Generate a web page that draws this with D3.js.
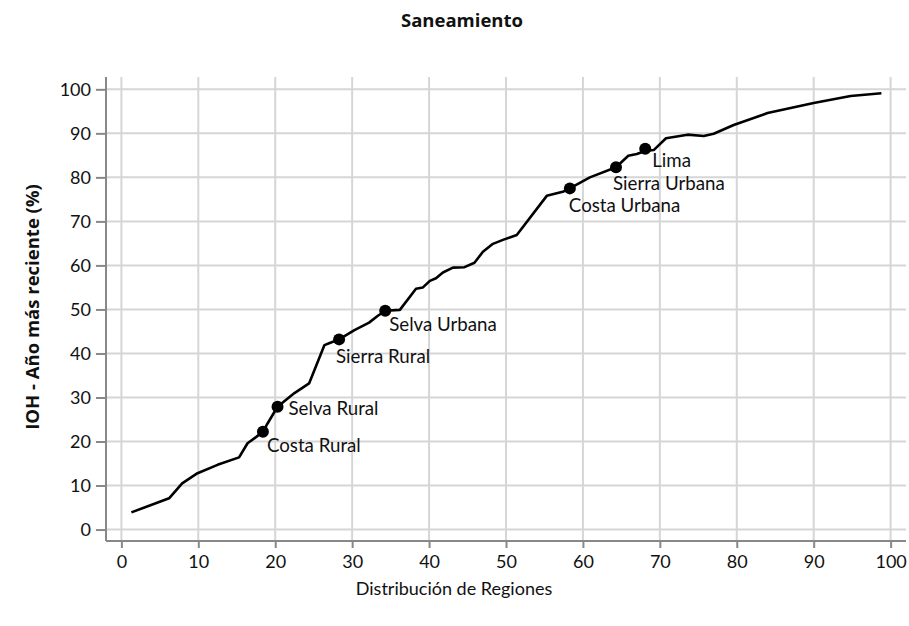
<!DOCTYPE html>
<html>
<head>
<meta charset="utf-8">
<script src="https://cdn.jsdelivr.net/npm/d3@7"></script>
<style>
  body { margin: 0; background: #fff; }
  svg text { font-family: Lato, "Open Sans", sans-serif; fill: #111; }
</style>
</head>
<body>
<svg id="chart" width="909" height="626"></svg>
<script>
// distribución acumulada de regiones (x) vs IOH (y)
const distX = [1.3, 6.2, 7.9, 9.9, 12.5, 15.3, 16.4, 17.5, 18.4, 19.0, 20.3, 22.5, 24.4, 26.4, 27.0,
    28.3, 30.3, 32.2, 33.3, 34.3, 36.2, 38.3, 39.2, 40.1, 40.9, 41.8, 43.1, 44.6, 45.9, 47.0,
    48.3, 49.6, 51.4, 55.3, 57.5, 58.3, 60.9, 64.3, 65.9, 67.0, 68.1, 69.2, 70.8, 73.6, 75.7,
    77.0, 79.6, 84.0, 90.0, 94.8, 98.8];
const iohY = [3.9, 7.1, 10.5, 12.8, 14.7, 16.4, 19.6, 21.0, 22.2, 24.1, 27.9, 31.0, 33.2, 41.9, 42.3,
    43.2, 45.3, 47.0, 48.5, 49.7, 49.9, 54.7, 55.0, 56.5, 57.1, 58.4, 59.5, 59.6, 60.6, 63.1,
    64.9, 65.8, 66.9, 75.8, 76.8, 77.5, 80.0, 82.3, 84.9, 85.3, 86.0, 86.2, 88.9, 89.7, 89.4,
    89.9, 91.9, 94.6, 96.9, 98.5, 99.1];

const regionNames = ["Costa Rural", "Selva Rural", "Sierra Rural", "Selva Urbana", "Costa Urbana", "Sierra Urbana", "Lima"];
const regionX = [18.4, 20.3, 28.3, 34.3, 58.3, 64.3, 68.1];
const regionY = [22.2, 27.9, 43.2, 49.7, 77.5, 82.3, 86.5];

const xTicks = [0, 10, 20, 30, 40, 50, 60, 70, 80, 90, 100];
const yTicks = [0, 10, 20, 30, 40, 50, 60, 70, 80, 90, 100];

// label placement relative to each dot (px)
const labelOffset = [[4, 14], [11, 2], [-3, 17], [4, 14], [-1, 17], [-3, 16], [7, 12]];

const svg = d3.select("#chart");
const plot = { left: 106, right: 906, top: 77, bottom: 541 };
const boldFont = "'Open Sans', Lato, sans-serif";

let x = d3.scaleLinear().domain([-2, 102]).range([plot.left, plot.right]);
let y = d3.scaleLinear().domain([-2.6, 102.8]).range([plot.bottom, plot.top]);

// grid
svg.append("g").selectAll("line").data(xTicks).enter().append("line")
    .attr("x1", d => x(d)).attr("x2", d => x(d))
    .attr("y1", plot.top).attr("y2", plot.bottom)
    .attr("stroke", "#d6d6d6").attr("stroke-width", 2);
svg.append("g").selectAll("line").data(yTicks).enter().append("line")
    .attr("x1", plot.left).attr("x2", plot.right)
    .attr("y1", d => y(d)).attr("y2", d => y(d))
    .attr("stroke", "#d6d6d6").attr("stroke-width", 2);

// axes
let xAxis = d3.axisBottom(x).tickValues(xTicks).tickSize(7).tickPadding(7);
let yAxis = d3.axisLeft(y).tickValues(yTicks).tickSize(10).tickPadding(5);

let gx = svg.append("g").attr("transform", "translate(0," + plot.bottom + ")").call(xAxis);
let gy = svg.append("g").attr("transform", "translate(" + plot.left + ",0)").call(yAxis);

[gx, gy].forEach(g => {
    g.select(".domain").attr("stroke", "#888").attr("stroke-width", 2);
    g.selectAll(".tick line").attr("stroke", "#888").attr("stroke-width", 2);
    g.selectAll(".tick text").attr("font-size", 18).attr("fill", "#111")
        .attr("font-family", "Lato, Open Sans, sans-serif");
});
gx.select(".domain").attr("d", "M" + plot.left + ",0H" + plot.right);
gy.select(".domain").attr("d", "M0," + plot.top + "V" + plot.bottom);

// curve
let pts = distX.map((d, i) => [d, iohY[i]]);
let line = d3.line().x(d => x(d[0])).y(d => y(d[1]));
svg.append("path").datum(pts)
    .attr("d", line)
    .attr("fill", "none").attr("stroke", "#000").attr("stroke-width", 2.6)
    .attr("stroke-linejoin", "round");

// points + labels
let marks = svg.append("g").selectAll("g").data(regionNames).enter().append("g");
marks.append("circle")
    .attr("cx", (d, i) => x(regionX[i])).attr("cy", (d, i) => y(regionY[i]))
    .attr("r", 6).attr("fill", "#000");
marks.append("text")
    .attr("x", (d, i) => x(regionX[i]) + labelOffset[i][0])
    .attr("y", (d, i) => y(regionY[i]) + labelOffset[i][1])
    .attr("dy", "0.35em")
    .attr("font-size", 18.7)
    .text(d => d);

// titles
svg.append("text").attr("x", 462).attr("y", 27)
    .attr("text-anchor", "middle").attr("font-size", 18.5).attr("font-weight", "bold")
    .style("font-family", boldFont)
    .text("Saneamiento");
svg.append("text").attr("x", 454).attr("y", 595)
    .attr("text-anchor", "middle").attr("font-size", 18)
    .text("Distribución de Regiones");
svg.append("text")
    .attr("transform", "translate(39," + ((plot.top + plot.bottom) / 2 - 2) + ") rotate(-90)")
    .attr("text-anchor", "middle").attr("font-size", 18.5).attr("font-weight", "bold")
    .style("font-family", boldFont)
    .text("IOH - Año más reciente (%)");
</script>
</body>
</html>
